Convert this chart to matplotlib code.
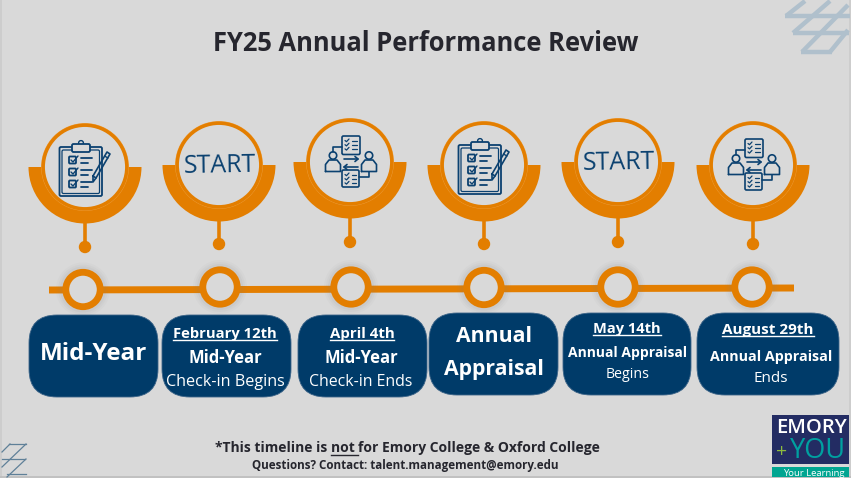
import matplotlib
matplotlib.use("Agg")
import matplotlib.pyplot as plt
from matplotlib.patches import Circle, Wedge, FancyBboxPatch, Rectangle

ORANGE = "#E37E00"
NAVY = "#003B69"
BG = "#D9D9D9"
INK = "#0B4170"
DARK = "#26262E"

# content
title = "FY25 Annual Performance Review"
footnote = ["*This timeline is ", "not ", "for Emory College & Oxford College"]
contact = "Questions? Contact: talent.management@emory.edu"
icons = ["clipboard", "start", "people", "clipboard", "start", "people"]

# (text, style, x, y, size) per box, style: u = date, b = bold, l = light
box_x = [(29, 158), (162, 291), (298, 427), (429, 558), (563, 691), (697, 839)]
box_y = [(315, 397), (315, 397), (315, 397), (313, 395), (313, 395), (313, 395)]
box_1 = [("Mid-Year", "b", 94, 353, 17.5)]
box_2 = [("February 12th", "u", 225, 333, 10.6), ("Mid-Year", "b", 225, 357, 12), ("Check-in Begins", "l", 225, 381, 11.6)]
box_3 = [("April 4th", "u", 362, 333, 10.8), ("Mid-Year", "b", 361, 357, 12), ("Check-in Ends", "l", 361, 381, 11.4)]
box_4 = [("Annual", "b", 494, 336, 15.3), ("Appraisal", "b", 494, 368, 15.3)]
box_5 = [("May 14th", "u", 627, 328, 10.5), ("Annual Appraisal", "b", 628, 352, 10), ("Begins", "l", 628, 373, 10.2)]
box_6 = [("August 29th", "u", 768, 329, 11), ("Annual Appraisal", "b", 771, 356, 10.3), ("Ends", "l", 771, 378, 11)]
box_texts = [box_1, box_2, box_3, box_4, box_5, box_6]

# layout in pixels of the picture
badge_x = [85, 219, 350, 484, 618, 753]
badge_y = [167, 165, 162, 165, 162, 165]
dot_y = [247, 244, 242, 244, 242, 244]
node_x = [83, 220, 351, 484, 618, 752]
node_y = [289.5, 287, 287, 287.5, 287, 287]

plt.rcParams["font.family"] = ["Open Sans", "DejaVu Sans"]
fig = plt.figure(figsize=(8.51, 4.78), dpi=100, facecolor=BG)
ax = fig.add_axes([0, 0, 1, 1])
ax.set_xlim(0, 851)
ax.set_ylim(478, 0)
ax.axis("off")

# slide edges
ax.plot([1, 1], [0, 478], color="#CBCBCB", lw=1.2)
ax.plot([849.5, 849.5], [0, 478], color="#CBCBCB", lw=1.2)
ax.plot([0, 851], [477.3, 477.3], color="#BDBDBD", lw=1.2)


def seg(xs, ys, cx=0, cy=0, color=INK, lw=1.3, z=5):
    ax.plot([cx + v for v in xs], [cy + v for v in ys], color=color, lw=lw,
            solid_capstyle="round", solid_joinstyle="round", zorder=z)


def rbox(x0, y0, x1, y1, r=1.5, fc="none", ec=INK, lw=1.3, z=5):
    ax.add_patch(FancyBboxPatch((x0 + r, y0 + r), x1 - x0 - 2 * r, y1 - y0 - 2 * r,
                                boxstyle="round,pad=%g,rounding_size=%g" % (r, r),
                                fc=fc, ec=ec, lw=lw, zorder=z))


def draw_clipboard(cx, cy):
    rbox(cx - 25.5, cy - 20, cx + 17, cy + 29)
    rbox(cx - 23, cy - 17, cx + 14.5, cy + 26.5, lw=0.9)
    rbox(cx - 13, cy - 23, cx + 5, cy - 15, fc=BG)
    ax.add_patch(Circle((cx - 4, cy - 24), 2.4, fc=BG, ec=INK, lw=1, zorder=4))
    for dy in (-7, 5, 17):
        rbox(cx - 16, cy + dy - 3.5, cx - 9, cy + dy + 3.5, r=1)
        seg([cx - 14, cx - 12, cx - 7], [cy + dy, cy + dy + 2, cy + dy - 4], lw=1)
        seg([cx - 4.5, cx + 7], [cy + dy - 2, cy + dy - 2], lw=1.3)
        seg([cx - 4.5, cx + 2.5], [cy + dy + 2.5, cy + dy + 2.5], lw=1.3)
    # pencil
    seg([cx + 8, cx + 22, cx + 25, cx + 11, cx + 8],
        [cy + 9, cy - 15, cy - 13, cy + 11, cy + 9], lw=1.2)
    seg([cx + 8, cx + 8, cx + 11], [cy + 9, cy + 15, cy + 11], lw=1.2)
    seg([cx + 19.5, cx + 23], [cy - 11, cy - 9], lw=1)


def draw_doc(x0, y0, x1, y1):
    rbox(x0, y0, x1, y1, lw=1.2)
    for i in range(3):
        y = y0 + 4.5 + i * 4.2
        seg([x0 + 3, x0 + 4.5, x0 + 7], [y, y + 1.2, y - 1.5], lw=0.9)
        seg([x0 + 9.5, x1 - 3], [y, y], lw=0.9)


def draw_person(cx, y0):
    ax.add_patch(Circle((cx, y0), 3.7, fc=BG, ec=INK, lw=1.2, zorder=5))
    seg([cx - 7.5, cx - 7.5, cx - 4, cx + 4, cx + 7.5, cx + 7.5, cx - 7.5],
        [y0 + 16, y0 + 9, y0 + 4.5, y0 + 4.5, y0 + 9, y0 + 16, y0 + 16], lw=1.2)


def draw_people(cx, cy):
    draw_doc(cx - 8, cy - 26, cx + 10, cy - 7.5)
    draw_doc(cx - 8, cy + 8, cx + 9, cy + 25)
    draw_person(cx - 17, cy - 6.5)
    draw_person(cx + 19, cy - 6.5)
    seg([cx - 8, cx - 17, cx - 17], [cy - 15, cy - 15, cy - 10.5], lw=1.2)
    seg([cx + 9, cx + 19, cx + 19], [cy + 15, cy + 15, cy + 10], lw=1.2)
    seg([cx - 6, cx + 8], [cy - 3, cy - 3], lw=1.2)
    seg([cx + 5, cx + 8, cx + 5], [cy - 5.5, cy - 3, cy - 0.5], lw=1.2)
    seg([cx - 6, cx + 8], [cy + 5, cy + 5], lw=1.2)
    seg([cx - 3, cx - 6, cx - 3], [cy + 2.5, cy + 5, cy + 7.5], lw=1.2)


# timeline
ax.plot([49, 794], [290, 288], color=ORANGE, lw=5, solid_capstyle="butt", zorder=2)

for nx, ny in zip(node_x, node_y):
    for r, a in zip((27, 25, 23), (0.04, 0.05, 0.07)):
        ax.add_patch(Circle((nx, ny), r, fc="#808080", ec="none", alpha=a, zorder=2.2))
    ax.add_patch(Circle((nx, ny), 17.2, fc=BG, ec=ORANGE, lw=4.9, zorder=3))

# badges
for i, kind in enumerate(icons):
    cx, cy = badge_x[i], badge_y[i]
    ax.add_patch(Wedge((cx, cy), 56.5, 0, 180, fc=ORANGE, ec="none", zorder=2))
    ax.plot([cx, cx], [cy + 55, dot_y[i]], color=ORANGE, lw=2.6, zorder=2)
    ax.add_patch(Circle((cx, dot_y[i]), 6.2, fc=ORANGE, ec="none", zorder=2))
    ax.add_patch(Circle((cx, cy), 43.9, fc="#EE9F3E", ec="none", zorder=2.5))
    ax.add_patch(Circle((cx, cy), 41.8, fc=BG, ec=ORANGE, lw=2.5, zorder=3))
    if kind == "clipboard":
        draw_clipboard(cx, cy)
    elif kind == "people":
        draw_people(cx, cy)
    else:
        ax.text(cx + 1, cy + 1, "START", color=INK, fontsize=18, ha="center", va="center",
                rotation=1, zorder=5)

fig.canvas.draw()
renderer = fig.canvas.get_renderer()

# boxes
for (x0, x1), (y0, y1), lines in zip(box_x, box_y, box_texts):
    rbox(x0, y0, x1, y1, r=28, fc=NAVY, ec="#3C6488", lw=0.6, z=4)
    for text, style, tx, ty, size in lines:
        weight = "normal" if style == "l" else "bold"
        t = ax.text(tx, ty + 1, text, color="white", fontsize=size, fontweight=weight,
                    ha="center", va="center", zorder=6)
        if style == "u":
            bb = t.get_window_extent(renderer)
            ax.plot([bb.x0, bb.x1], [ty + 7, ty + 7], color="white", lw=1, zorder=6)

ax.text(425.5, 43, title, color=DARK, fontsize=18.4, fontweight="bold", ha="center", va="center")

# footer, written in pieces so the underlined word lines up
x = 215
for part in footnote:
    t = ax.text(x, 448, part.replace(" ", "\u00a0"), color=DARK, fontsize=10, fontweight="bold", ha="left", va="center")
    bb = t.get_window_extent(renderer)
    if part.startswith("not"):
        ax.plot([bb.x0, bb.x1], [455, 455], color=DARK, lw=1)
    x = bb.x1
ax.text(405.5, 465, contact, color=DARK, fontsize=8.4, fontweight="bold", ha="center", va="center")

# corner decorations
deco = "#B0C0CC"
for xs, ys in [([785, 850], [16, 16]), ([793, 849], [33, 33]), ([801, 832], [52, 52]),
               ([805, 786], [1, 16]), ([830, 793], [1, 33]), ([848, 802], [5, 52]), ([848, 830], [30, 52])]:
    ax.plot(xs, ys, color=deco, lw=3.2, solid_capstyle="butt")
for xs, ys in [([9, 26], [444, 444]), ([2, 25], [459, 459]), ([7, 26], [474, 474]),
               ([26, 2], [444, 467]), ([26, 7], [459, 477]), ([10, 2], [444, 452])]:
    ax.plot(xs, ys, color="#5F8098", lw=0.9)

# logo
logo = Rectangle((772, 415), 77, 49, fc="#232C63", ec="none", zorder=6)
ax.add_patch(logo)
teal = Rectangle((772, 467), 77, 10, fc="#00A591", ec="none", zorder=6)
ax.add_patch(teal)
ax.text(776, 428, "EMORY", color="white", fontsize=14.6, fontweight="semibold", ha="left", va="center", zorder=7)
ax.text(776, 452, "+", color="#8DBB3E", fontsize=14, ha="left", va="center", zorder=7)
ax.text(790, 451, "YOU", color="#00A0A0", fontsize=19.5, ha="left", va="center", zorder=7)
ax.text(783, 473, "Your Learning", color="white", fontsize=6.8, ha="left", va="center", zorder=7)

fig.savefig("out.png", dpi=100, facecolor=BG)
